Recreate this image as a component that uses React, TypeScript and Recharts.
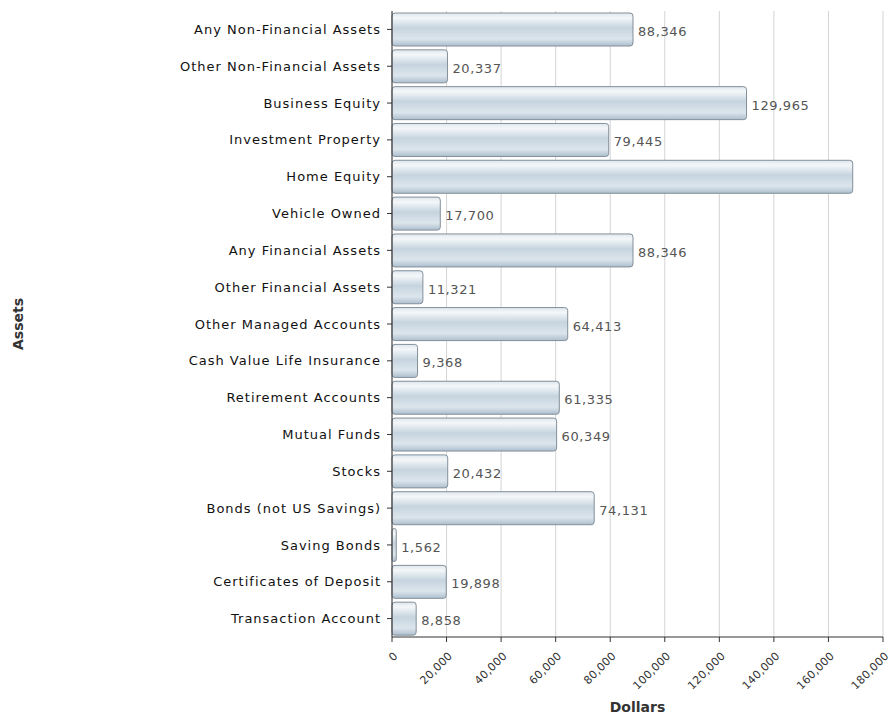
import React from 'react';
import { BarChart, Bar, XAxis, YAxis, CartesianGrid, LabelList, Label } from 'recharts';

const categories = [
  'Any Non-Financial Assets',
  'Other Non-Financial Assets',
  'Business Equity',
  'Investment Property',
  'Home Equity',
  'Vehicle Owned',
  'Any Financial Assets',
  'Other Financial Assets',
  'Other Managed Accounts',
  'Cash Value Life Insurance',
  'Retirement Accounts',
  'Mutual Funds',
  'Stocks',
  'Bonds (not US Savings)',
  'Saving Bonds',
  'Certificates of Deposit',
  'Transaction Account',
];

const dollars = [
  88346, 20337, 129965, 79445, 168900, 17700, 88346, 11321, 64413, 9368,
  61335, 60349, 20432, 74131, 1562, 19898, 8858,
];

const xTicks = [0, 20000, 40000, 60000, 80000, 100000, 120000, 140000, 160000, 180000];

const data = categories.map((name, i) => ({ name, value: dollars[i] }));

const W = 896;
const H = 721;
const FONT = '"DejaVu Sans", Verdana, sans-serif';

const fmt = (v: number) => v.toLocaleString('en-US');

function XTick(props: any) {
  const { x, y, payload } = props;
  return (
    <text
      transform={`translate(${x + 4},${y + 10}) rotate(-45)`}
      textAnchor="end"
      dominantBaseline="central"
      fontSize={11}
      fontFamily={FONT}
      letterSpacing={0.3}
      fill="#333"
    >
      {fmt(payload.value)}
    </text>
  );
}

function ValueLabel(props: any) {
  const { x, y, width, height, value } = props;
  const end = x + width;
  if (end + 58 > W) return null;
  return (
    <text
      x={end + 5}
      y={y + height / 2 + 2}
      dominantBaseline="central"
      fontSize={13}
      fontFamily={FONT}
      letterSpacing={0.6}
      fill="#555"
    >
      {fmt(value)}
    </text>
  );
}

function AxisTitle(props: any) {
  const { viewBox } = props;
  const cx = 18;
  const cy = viewBox.y + viewBox.height / 2;
  return (
    <text
      x={cx}
      y={cy}
      transform={`rotate(-90, ${cx}, ${cy})`}
      textAnchor="middle"
      dominantBaseline="central"
      fontSize={14}
      fontWeight="bold"
      fontFamily={FONT}
      fill="#333"
    >
      Assets
    </text>
  );
}

export default function App() {
  return (
    <div style={{ position: 'absolute', left: 0, top: 0, width: W, height: H, background: '#fff' }}>
      <BarChart
        width={W}
        height={H}
        data={data}
        layout="vertical"
        margin={{ top: 11, right: 13, bottom: 0, left: 0 }}
        barCategoryGap={2}
      >
        <defs>
          <linearGradient id="barFill" x1="0" y1="0" x2="0" y2="1">
            <stop offset="0%" stopColor="#dfe7ed" />
            <stop offset="15%" stopColor="#f4f7f9" />
            <stop offset="45%" stopColor="#c6d4df" />
            <stop offset="78%" stopColor="#dce5ec" />
            <stop offset="100%" stopColor="#adbfce" />
          </linearGradient>
        </defs>
        <CartesianGrid horizontal={false} stroke="#d4d4d4" />
        <XAxis
          type="number"
          domain={[0, 180000]}
          ticks={xTicks}
          interval={0}
          height={84}
          tick={<XTick />}
          tickSize={5}
          axisLine={{ stroke: '#333' }}
          tickLine={{ stroke: '#333' }}
        >
          <Label
            value="Dollars"
            position="insideBottom"
            offset={9}
            style={{ fontSize: 14, fontWeight: 'bold', fontFamily: FONT, fill: '#333' }}
          />
        </XAxis>
        <YAxis
          type="category"
          dataKey="name"
          width={392}
          interval={0}
          tickSize={5}
          tickMargin={6}
          tick={{ fontSize: 13, fontFamily: FONT, fill: '#111', letterSpacing: 1 }}
          axisLine={{ stroke: '#333' }}
          tickLine={{ stroke: '#333' }}
        >
          <Label content={<AxisTitle />} />
        </YAxis>
        <Bar
          dataKey="value"
          fill="url(#barFill)"
          stroke="#838f9a"
          strokeWidth={1}
          radius={3}
          isAnimationActive={false}
        >
          <LabelList dataKey="value" content={<ValueLabel />} />
        </Bar>
      </BarChart>
    </div>
  );
}
